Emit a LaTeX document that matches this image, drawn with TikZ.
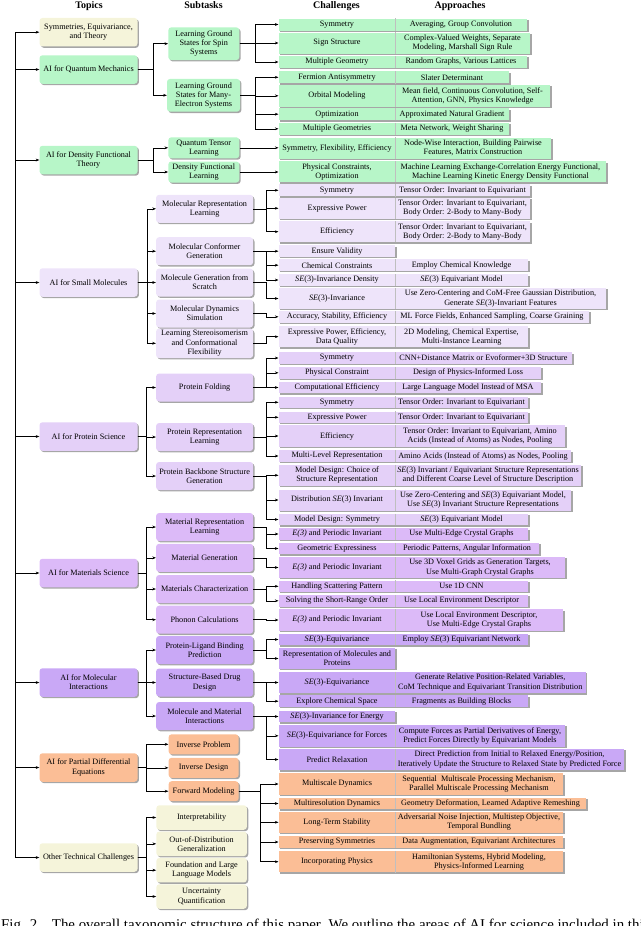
\documentclass[tikz,border=0pt]{standalone}
\usepackage{fontspec}
\setmainfont{Liberation Serif}
\usetikzlibrary{arrows.meta,shadows}
\definecolor{cgreen}{RGB}{183,246,200}
\definecolor{cyellow}{RGB}{245,244,218}
\definecolor{csmall}{RGB}{238,228,250}
\definecolor{cprot}{RGB}{228,208,248}
\definecolor{cmat}{RGB}{220,186,248}
\definecolor{cmol}{RGB}{201,168,246}
\definecolor{cpde}{RGB}{251,190,150}
\newcommand{\diagfont}{\fontsize{8.2}{9.2}\selectfont}
% #1 name, #2 y, #3 height, #4 right x, #5 colour, #6 challenge, #7 approach
\newcommand{\ChRow}[7]{%
  \node[rowbox, fill=#5, minimum width={#4-278.5}, minimum height=#3] (#1) at (278.5,#2) {};
  \draw[divline] ([xshift=116.5pt]#1.north west) -- ([xshift=116.5pt]#1.south west);
  \node[rowtext] (#1c) at (337,#2) {#6};
  \node[rowtext] (#1a) at ({(395+#4)/2},#2) {#7};
}
% #1 name, #2 y, #3 height, #4 colour, #5 challenge
\newcommand{\ChOnly}[5]{%
  \node[rowbox, fill=#4, minimum width=116.5, minimum height=#3] (#1) at (278.5,#2) {};
  \node[rowtext] (#1c) at (337,#2) {#5};
}
\begin{document}
\begin{tikzpicture}[x=1pt,y=-1pt,
  every node/.style={font=\diagfont},
  head/.style={font=\fontsize{10}{12}\selectfont\bfseries, anchor=base, inner sep=0},
  shad/.style={drop shadow={shadow xshift=1.4pt,shadow yshift=-1.4pt,opacity=0.35,fill=black}},
  topic/.style={shad, rounded corners=3pt, minimum width=98, minimum height=28.5, align=center, inner sep=0},
  sub/.style={shad, rounded corners=3pt, minimum width=97, minimum height=28, align=center, inner sep=0},
  rowbox/.style={shad, anchor=west, inner sep=0, draw=none},
  rowtext/.style={align=center, inner sep=0},
  divline/.style={draw=black!25, line width=0.5pt},
  arr/.style={-{Stealth[length=3.6pt,width=2.8pt]}, line width=0.55pt}
]
\useasboundingbox (0,0) rectangle (640,926);

% headers
\node[head] (h1) at (89,8.3) {Topics};
\node[head] (h2) at (203.5,8.3) {Subtasks};
\node[head] (h3) at (336.5,8.3) {Challenges};
\node[head] (h4) at (460,8.3) {Approaches};

% topics
\node[topic, fill=cyellow] (t1) at (88.5,32.2) {Symmetries, Equivariance,\\and Theory};
\node[topic, fill=cgreen] (t2) at (88.5,69.5) {AI for Quantum Mechanics};
\node[topic, fill=cgreen] (t3) at (88.5,160) {AI for Density Functional\\Theory};
\node[topic, fill=csmall] (t4) at (88.5,282.5) {AI for Small Molecules};
\node[topic, fill=cprot] (t5) at (88.5,436.5) {AI for Protein Science};
\node[topic, fill=cmat] (t6) at (88.5,573) {AI for Materials Science};
\node[topic, fill=cmol] (t7) at (88.5,682.5) {AI for Molecular\\Interactions};
\node[topic, fill=cpde] (t8) at (88.5,767.5) {AI for Partial Differential\\Equations};
\node[topic, fill=cyellow] (t9) at (88.5,857.5) {Other Technical Challenges};

% subtasks
\node[sub, fill=cgreen, minimum width=71, minimum height=32.7] (spin) at (203.8,43.7) {Learning Ground\\States for Spin\\Systems};
\node[sub, fill=cgreen, minimum width=73, minimum height=32.7] (me) at (203.5,95.3) {Learning Ground\\States for Many-\\Electron Systems};
\node[sub, fill=cgreen, minimum width=71, minimum height=21] (qtl) at (203.8,147.8) {Quantum Tensor\\Learning};
\node[sub, fill=cgreen, minimum width=71, minimum height=21] (dfl) at (203.8,172) {Density Functional\\Learning};
\node[sub, fill=csmall] (mrl) at (204.6,208.8) {Molecular Representation\\Learning};
\node[sub, fill=csmall] (mcg) at (204.6,251.2) {Molecular Conformer\\Generation};
\node[sub, fill=csmall] (mgs) at (204.6,282.5) {Molecule Generation from\\Scratch};
\node[sub, fill=csmall] (mds) at (204.6,313.5) {Molecular Dynamics\\Simulation};
\node[sub, fill=csmall, minimum height=29.5] (lsc) at (204.6,343.3) {Learning Stereoisomerism\\and Conformational\\Flexibility};
\node[sub, fill=cprot] (pf) at (204.6,387.5) {Protein Folding};
\node[sub, fill=cprot] (prl) at (204.6,437) {Protein Representation\\Learning};
\node[sub, fill=cprot] (pbs) at (204.6,476) {Protein Backbone Structure\\Generation};
\node[sub, fill=cmat] (mrl2) at (204.6,527) {Material Representation\\Learning};
\node[sub, fill=cmat] (mg) at (204.6,557.8) {Material Generation};
\node[sub, fill=cmat] (mc) at (204.6,589) {Materials Characterization};
\node[sub, fill=cmat] (pc) at (204.6,619.7) {Phonon Calculations};
\node[sub, fill=cmol] (plb) at (204.6,650) {Protein-Ligand Binding\\Prediction};
\node[sub, fill=cmol] (sbd) at (204.6,682.5) {Structure-Based Drug\\Design};
\node[sub, fill=cmol] (mmi) at (204.6,716) {Molecule and Material\\Interactions};
\node[sub, fill=cpde, minimum width=70, minimum height=20] (ip) at (203.6,744.3) {Inverse Problem};
\node[sub, fill=cpde, minimum width=70, minimum height=20] (id) at (203.6,767.8) {Inverse Design};
\node[sub, fill=cpde, minimum width=70, minimum height=20] (fm) at (203.6,791.2) {Forward Modeling};
\node[sub, fill=cyellow, minimum width=90.5, minimum height=24.5] (interp) at (201.6,817.5) {Interpretability};
\node[sub, fill=cyellow, minimum width=90.5, minimum height=24.5] (ood) at (201.6,843.8) {Out-of-Distribution\\Generalization};
\node[sub, fill=cyellow, minimum width=90.5, minimum height=24.5] (fllm) at (201.6,870.2) {Foundation and Large\\Language Models};
\node[sub, fill=cyellow, minimum width=90.5, minimum height=24.5] (uq) at (201.6,896.5) {Uncertainty\\Quantification};

% challenge / approach rows
\ChRow{q1}{24.5}{12}{527}{cgreen}{Symmetry}{Averaging, Group Convolution}
\ChRow{q2}{43}{21}{530}{cgreen}{Sign Structure}{Complex-Valued Weights, Separate\\Modeling, Marshall Sign Rule}
\ChRow{q3}{62}{12}{527}{cgreen}{Multiple Geometry}{Random Graphs, Various Lattices}
\ChRow{q4}{77.3}{12}{509}{cgreen}{Fermion Antisymmetry}{Slater Determinant}
\ChRow{q5}{95.8}{21.5}{550}{cgreen}{Orbital Modeling}{Mean field, Continuous Convolution, Self-\\Attention, GNN, Physics Knowledge}
\ChRow{q6}{114.2}{12}{509}{cgreen}{Optimization}{Approximated Natural Gradient}
\ChRow{q7}{128.8}{12}{509}{cgreen}{Multiple Geometries}{Meta Network, Weight Sharing}
\ChRow{q8}{148}{21}{551}{cgreen}{Symmetry, Flexibility, Efficiency}{Node-Wise Interaction, Building Pairwise\\Features, Matrix Construction}
\ChRow{q9}{171.7}{21}{606}{cgreen}{Physical Constraints,\\Optimization}{Machine Learning Exchange-Correlation Energy Functional,\\Machine Learning Kinetic Energy Density Functional}

\ChRow{s1}{190.3}{12}{530}{csmall}{Symmetry}{Tensor Order: Invariant to Equivariant}
\ChRow{s2}{208.3}{21}{530}{csmall}{Expressive Power}{Tensor Order: Invariant to Equivariant,\\Body Order: 2-Body to Many-Body}
\ChRow{s3}{231.7}{21}{530}{csmall}{Efficiency}{Tensor Order: Invariant to Equivariant,\\Body Order: 2-Body to Many-Body}
\ChOnly{s4}{251.2}{11.5}{csmall}{Ensure Validity}
\ChRow{s5}{265.2}{11.5}{528}{csmall}{Chemical Constraints}{Employ Chemical Knowledge}
\ChRow{s6}{280}{11.5}{528}{csmall}{\textit{SE}(3)-Invariance Density}{\textit{SE}(3) Equivariant Model}
\ChRow{s7}{298.5}{21}{606}{csmall}{\textit{SE}(3)-Invariance}{Use Zero-Centering and CoM-Free Gaussian Distribution,\\Generate \textit{SE}(3)-Invariant Features}
\ChRow{s8}{316.8}{11.5}{589}{csmall}{Accuracy, Stability, Efficiency}{ML Force Fields, Enhanced Sampling, Coarse Graining}
\ChRow{s9}{336.7}{21}{528}{csmall}{Expressive Power, Efficiency,\\Data Quality}{2D Modeling, Chemical Expertise,\\Multi-Instance Learning}

\ChRow{p1}{358}{11.5}{572}{cprot}{Symmetry}{CNN+Distance Matrix or Evoformer+3D Structure}
\ChRow{p2}{372.8}{11.5}{541}{cprot}{Physical Constraint}{Design of Physics-Informed Loss}
\ChRow{p3}{387.5}{11.5}{541}{cprot}{Computational Efficiency}{Large Language Model Instead of MSA}
\ChRow{p4}{402.3}{11.5}{528}{cprot}{Symmetry}{Tensor Order: Invariant to Equivariant}
\ChRow{p5}{417.3}{11.5}{528}{cprot}{Expressive Power}{Tensor Order: Invariant to Equivariant}
\ChRow{p6}{436}{21.5}{565}{cprot}{Efficiency}{Tensor Order: Invariant to Equivariant, Amino\\Acids (Instead of Atoms) as Nodes, Pooling}
\ChRow{p7}{456}{11.5}{571}{cprot}{Multi-Level Representation}{Amino Acids (Instead of Atoms) as Nodes, Pooling}
\ChRow{p8}{475.3}{21}{581}{cprot}{Model Design: Choice of\\Structure Representation}{\textit{SE}(3) Invariant / Equivariant Structure Representations\\and Different Coarse Level of Structure Description}
\ChRow{p9}{500}{21}{571}{cprot}{Distribution \textit{SE}(3) Invariant}{Use Zero-Centering and \textit{SE}(3) Equivariant Model,\\Use \textit{SE}(3) Invariant Structure Representations}
\ChRow{p10}{519.5}{11.5}{528}{cprot}{Model Design: Symmetry}{\textit{SE}(3) Equivariant Model}

\ChRow{m1}{534}{11.5}{528}{cmat}{\textit{E(3)} and Periodic Invariant}{Use Multi-Edge Crystal Graphs}
\ChRow{m2}{548.5}{11.5}{539}{cmat}{Geometric Expressiness}{Periodic Patterns, Angular Information}
\ChRow{m3}{567.5}{21}{565}{cmat}{\textit{E(3)} and Periodic Invariant}{Use 3D Voxel Grids as Generation Targets,\\Use Multi-Graph Crystal Graphs}
\ChRow{m4}{586.3}{11.5}{528}{cmat}{Handling Scattering Pattern}{Use 1D CNN}
\ChRow{m5}{600.8}{11.5}{528}{cmat}{Solving the Short-Range Order}{Use Local Environment Descriptor}
\ChRow{m6}{620}{21.5}{563}{cmat}{\textit{E(3)} and Periodic Invariant}{Use Local Environment Descriptor,\\Use Multi-Edge Crystal Graphs}

\ChRow{i1}{639.5}{11.5}{528}{cmol}{\textit{SE}(3)-Equivariance}{Employ \textit{SE}(3) Equivariant Network}
\ChOnly{i2}{658.5}{21}{cmol}{Representation of Molecules and\\Proteins}
\ChRow{i3}{682.5}{21.5}{585.5}{cmol}{\textit{SE}(3)-Equivariance}{Generate Relative Position-Related Variables,\\CoM Technique and Equivariant Transition Distribution}
\ChRow{i4}{701.2}{11.5}{528}{cmol}{Explore Chemical Space}{Fragments as Building Blocks}
\ChOnly{i5}{716.5}{11.5}{cmol}{\textit{SE}(3)-Invariance for Energy}
\ChRow{i6}{735.8}{21.5}{565}{cmol}{\textit{SE}(3)-Equivariance for Forces}{Compute Forces as Partial Derivatives of Energy,\\Predict Forces Directly by Equivariant Models}
\ChRow{i7}{759.5}{21.5}{624}{cmol}{Predict Relaxation}{Direct Prediction from Initial to Relaxed Energy/Position,\\Iteratively Update the Structure to Relaxed State by Predicted Force}

\ChRow{d1}{784}{21.5}{563}{cpde}{Multiscale Dynamics}{Sequential\ \ Multiscale Processing Mechanism,\\Parallel Multiscale Processing Mechanism}
\ChRow{d2}{803.5}{11.5}{586}{cpde}{Multiresolution Dynamics}{Geometry Deformation, Learned Adaptive Remeshing}
\ChRow{d3}{822.3}{21}{563}{cpde}{Long-Term Stability}{Adversarial Noise Injection, Multistep Objective,\\Temporal Bundling}
\ChRow{d4}{842}{11.5}{563}{cpde}{Preserving Symmetries}{Data Augmentation, Equivariant Architectures}
\ChRow{d5}{861.7}{21.5}{563}{cpde}{Incorporating Physics}{Hamiltonian Systems, Hybrid Modeling,\\Physics-Informed Learning}

% main spine
\coordinate (mtop) at (15.5,32.2);
\foreach \t in {t1,t2,t3,t4,t5,t6,t7,t8,t9} \draw[arr] (mtop) |- (\t.west);

% topic -> subtask
\coordinate (vq) at (153,0);
\coordinate (vs) at (147.5,0);
\coordinate (vp) at (146,0);
\foreach \s in {spin,me} \draw[arr] (t2.east) -- (t2.east -| vq) |- (\s.west);
\foreach \s in {qtl,dfl} \draw[arr] (t3.east) -- (t3.east -| vq) |- (\s.west);
\foreach \s in {mrl,mcg,mgs,mds,lsc} \draw[arr] (t4.east) -- (t4.east -| vs) |- (\s.west);
\foreach \s in {pf,prl,pbs} \draw[arr] (t5.east) -- (t5.east -| vp) |- (\s.west);
\foreach \s in {mrl2,mg,mc,pc} \draw[arr] (t6.east) -- (t6.east -| vp) |- (\s.west);
\foreach \s in {plb,sbd,mmi} \draw[arr] (t7.east) -- (t7.east -| vp) |- (\s.west);
\foreach \s in {ip,id,fm} \draw[arr] (t8.east) -- (t8.east -| vp) |- (\s.west);
\foreach \s in {interp,ood,fllm,uq} \draw[arr] (t9.east) -- (t9.east -| vp) |- (\s.west);

% subtask -> rows
\coordinate (wq) at (255,0);
\coordinate (ws) at (266,0);
\coordinate (wp) at (260,0);
\foreach \r in {q1,q2,q3} \draw[arr] (spin.east) -- (spin.east -| wq) |- (\r.west);
\foreach \r in {q4,q5,q6,q7} \draw[arr] (me.east) -- (me.east -| wq) |- (\r.west);
\draw[arr] (qtl.east) -- (qtl.east -| q8.west);
\draw[arr] (dfl.east) -- (dfl.east -| q9.west);
\foreach \r in {s1,s2,s3} \draw[arr] (mrl.east) -- (mrl.east -| ws) |- (\r.west);
\foreach \r in {s4,s5,s6} \draw[arr] (mcg.east) -- (mcg.east -| ws) |- (\r.west);
\draw[arr] (mgs.east) -- (mgs.east -| ws) |- (s7.west);
\draw[arr] (mds.east) -- (mds.east -| ws) |- (s8.west);
\draw[arr] (lsc.east) -- (lsc.east -| ws) |- (s9.west);
\foreach \r in {p1,p2,p3} \draw[arr] (pf.east) -- (pf.east -| ws) |- (\r.west);
\foreach \r in {p4,p5,p6,p7} \draw[arr] (prl.east) -- (prl.east -| ws) |- (\r.west);
\foreach \r in {p8,p9,p10} \draw[arr] (pbs.east) -- (pbs.east -| ws) |- (\r.west);
\foreach \r in {m1,m2} \draw[arr] (mrl2.east) -- (mrl2.east -| ws) |- (\r.west);
\draw[arr] (mg.east) -- (mg.east -| ws) |- (m3.west);
\foreach \r in {m4,m5} \draw[arr] (mc.east) -- (mc.east -| ws) |- (\r.west);
\draw[arr] (pc.east) -- (pc.east -| ws) |- (m6.west);
\foreach \r in {i1,i2} \draw[arr] (plb.east) -- (plb.east -| ws) |- (\r.west);
\foreach \r in {i3,i4} \draw[arr] (sbd.east) -- (sbd.east -| ws) |- (\r.west);
\foreach \r in {i5,i6,i7} \draw[arr] (mmi.east) -- (mmi.east -| ws) |- (\r.west);
\foreach \r in {d1,d2,d3,d4,d5} \draw[arr] (fm.east) -- (fm.east -| wp) |- (\r.west);

% caption (cut at the lower edge, as in the reference)
\node[anchor=base west, inner sep=0, font=\fontsize{14.9}{17}\selectfont] (cap) at (1,929.5) {Fig. 2.\hspace{6pt} The overall taxonomic structure of this paper. We outline the areas of AI for science included in this};
\end{tikzpicture}
\end{document}
